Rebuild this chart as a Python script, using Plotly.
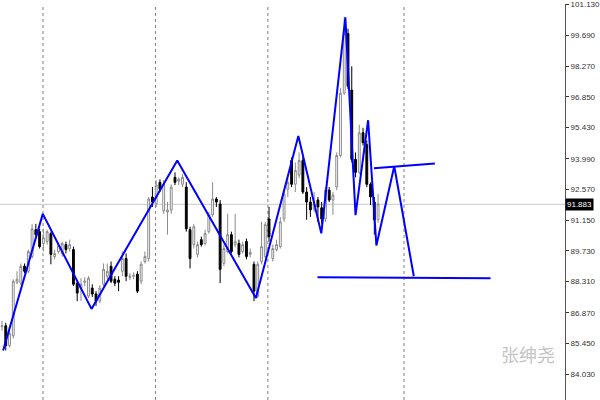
import plotly.graph_objects as go

# ---- candle data (bar index, OHLC) ----
opens = [86.23, 86.27, 85.36, 85.81, 88.28, 88.24, 89.02, 88.79, 89.47, 90.71,
         90.62, 90.07, 90.16, 90.53, 89.47, 89.70, 89.61, 90.02, 89.84, 89.79,
         88.24, 88.01, 88.28, 87.64, 88.01, 87.74, 87.41, 88.19, 88.56, 89.02,
         88.42, 88.38, 88.79, 89.38, 88.51, 88.56, 88.65, 88.33, 89.24, 89.38,
         92.22, 91.90, 92.90, 91.58, 91.53, 91.62, 93.13, 92.95, 92.81, 92.68,
         90.71, 90.02, 89.57, 90.25, 90.07, 90.62, 91.40, 92.13, 91.90, 89.15,
         89.70, 90.48, 90.02, 90.07, 89.70, 90.16, 89.57, 89.11, 87.64, 89.24,
         89.47, 91.21, 89.38, 89.79, 89.93, 91.21, 92.58, 93.91, 92.81, 93.23,
         93.91, 92.45, 91.99, 91.67, 92.08, 91.72, 91.21, 92.54, 92.08, 92.68,
         94.14, 97.02, 99.77, 97.16, 93.96, 93.36, 95.19, 94.64, 92.81, 91.99,
         91.17]
highs = [86.50, 86.41, 86.04, 88.42, 88.79, 89.15, 89.15, 89.79, 90.98, 90.98,
         90.75, 90.75, 90.71, 90.62, 89.79, 90.11, 90.16, 90.16, 90.25, 89.93,
         88.33, 88.47, 88.51, 88.56, 88.19, 87.87, 88.15, 89.15, 89.15, 89.24,
         88.56, 88.56, 89.70, 89.61, 88.70, 88.74, 88.79, 89.24, 89.70, 92.22,
         92.68, 93.00, 93.04, 93.00, 91.99, 92.81, 93.36, 93.13, 93.27, 92.90,
         90.85, 90.98, 90.16, 90.39, 90.71, 91.53, 92.90, 92.22, 92.08, 90.02,
         91.44, 90.62, 91.44, 90.25, 90.16, 90.30, 89.84, 89.24, 89.24, 91.07,
         91.07, 91.76, 90.02, 90.25, 91.30, 92.54, 93.09, 94.05, 93.82, 94.28,
         94.05, 92.68, 92.22, 92.45, 92.22, 91.99, 92.68, 92.68, 92.45, 94.28,
         97.25, 100.55, 100.00, 98.26, 94.28, 95.56, 95.42, 94.83, 92.90, 92.22,
         92.36]
lows = [86.04, 85.13, 85.26, 85.68, 88.19, 88.15, 88.70, 88.70, 89.38, 90.34,
        89.84, 89.70, 90.02, 89.11, 89.34, 89.61, 89.47, 89.61, 89.70, 88.10,
        87.41, 87.41, 88.10, 87.55, 87.60, 87.19, 87.32, 88.10, 88.42, 88.24,
        88.10, 87.87, 88.56, 88.33, 88.38, 88.42, 87.78, 88.19, 89.15, 89.24,
        91.76, 91.76, 92.45, 91.44, 90.48, 91.44, 92.77, 92.77, 92.68, 90.62,
        88.92, 89.84, 89.43, 89.93, 89.98, 90.53, 91.30, 91.76, 88.24, 89.02,
        89.61, 89.61, 89.89, 89.43, 89.61, 89.34, 89.43, 87.41, 87.55, 89.11,
        89.38, 90.16, 89.24, 89.70, 89.84, 91.07, 92.22, 92.68, 92.45, 93.09,
        92.36, 91.17, 91.30, 91.53, 91.07, 90.98, 91.07, 91.99, 91.40, 92.54,
        94.05, 96.93, 97.21, 93.82, 93.13, 93.27, 94.60, 92.68, 91.85, 90.48,
        91.03]
closes = [86.27, 85.36, 85.91, 88.33, 88.42, 89.02, 88.79, 89.70, 90.75, 90.48,
          89.93, 90.34, 90.62, 89.57, 89.61, 89.98, 90.07, 89.79, 90.02, 88.19,
          87.78, 88.19, 88.33, 88.47, 87.74, 87.41, 88.01, 88.88, 88.79, 88.33,
          88.24, 88.28, 89.38, 88.56, 88.56, 88.60, 87.87, 89.11, 89.47, 92.13,
          91.99, 92.77, 92.58, 92.81, 91.62, 92.68, 92.90, 93.04, 93.13, 90.75,
          89.38, 90.85, 90.02, 90.02, 90.53, 91.40, 92.13, 91.99, 88.88, 89.84,
          90.48, 89.70, 90.16, 89.57, 90.02, 89.47, 89.66, 87.87, 89.11, 89.93,
          90.94, 90.39, 89.84, 90.02, 91.07, 92.36, 92.90, 92.81, 93.45, 93.91,
          92.45, 91.99, 91.62, 91.90, 91.76, 91.21, 92.54, 92.08, 92.31, 94.14,
          97.02, 99.77, 97.34, 93.96, 93.36, 95.19, 94.73, 92.81, 92.22, 91.17,
          91.90]
bars = list(range(len(opens)))

# ---- zigzag / pattern lines (bar index, price) ----
zigzag_bars = [0.3, 10.85, 23.8, 46.6, 67.5, 78.8, 84.9, 91.3, 94.0, 97.35, 99.55, 104.3, 109.5]
zigzag_prices = [85.13, 91.44, 87.05, 93.91, 87.55, 95.04, 90.54, 100.52, 91.38, 95.77, 89.98, 93.64, 88.56]
neck_bars = [98.9, 115.1]
neck_prices = [93.55, 93.77]
support_bars = [83.9, 129.9]
support_prices = [88.51, 88.47]

separator_bars = [10.9, 40.8, 70.7, 106.9]
current_price = 91.883
tick_values = [101.13, 99.69, 98.27, 96.85, 95.43, 93.99, 92.57, 91.15, 89.73, 88.31, 86.87, 85.45, 84.03]
tick_labels = ["101.130", "99.690", "98.270", "96.850", "95.430", "93.990", "92.570",
               "91.150", "89.730", "88.310", "86.870", "85.450", "84.030"]

fig = go.Figure()
fig.add_trace(go.Candlestick(
    x=bars, open=opens, high=highs, low=lows, close=closes,
    increasing=dict(line=dict(color="#8a8a8a", width=1), fillcolor="white"),
    decreasing=dict(line=dict(color="black", width=1), fillcolor="black"),
    whiskerwidth=0, showlegend=False, hoverinfo="skip"))

for xs, ys in [(zigzag_bars, zigzag_prices), (neck_bars, neck_prices), (support_bars, support_prices)]:
    fig.add_trace(go.Scatter(x=xs, y=ys, mode="lines", line=dict(color="#0000ff", width=2),
                             showlegend=False, hoverinfo="skip"))

shapes = []
for b in separator_bars:
    shapes.append(dict(type="line", xref="x", yref="paper", x0=b, x1=b, y0=0, y1=1,
                       line=dict(color="#808080", width=1, dash="dot"), layer="below"))
shapes.append(dict(type="line", xref="paper", yref="y", x0=0, x1=1, y0=current_price, y1=current_price,
                   line=dict(color="#c8c8c8", width=1), layer="below"))

fig.update_layout(
    width=600, height=400, margin=dict(l=0, r=32, t=0, b=0),
    paper_bgcolor="white", plot_bgcolor="white", shapes=shapes,
    xaxis=dict(range=[-0.53, 149.7], visible=False, rangeslider=dict(visible=False)),
    yaxis=dict(range=[82.84, 101.14], side="right", showgrid=False, zeroline=False,
               tickvals=tick_values, ticktext=tick_labels, ticks="outside", ticklen=3,
               tickcolor="#333", showline=True, linecolor="#555", linewidth=1,
               ticklabeloverflow="allow",
               tickfont=dict(family="Liberation Sans", size=8, color="#333")),
    annotations=[
        dict(xref="paper", yref="y", x=1.0, y=current_price, xanchor="left", yanchor="middle",
             text="91.883", showarrow=False, bgcolor="black", borderpad=1,
             font=dict(family="Liberation Sans", size=8, color="white")),
        dict(xref="paper", yref="paper", x=0.985, y=0.115, xanchor="right", yanchor="middle",
             text="张绅尧", showarrow=False,
             font=dict(family="Noto Sans CJK SC", size=18, color="#c4c4c4")),
    ],
)
fig.write_html("out.html", config={"displayModeBar": False},
               post_script="document.body.style.margin='0';document.body.style.overflow='hidden';")
